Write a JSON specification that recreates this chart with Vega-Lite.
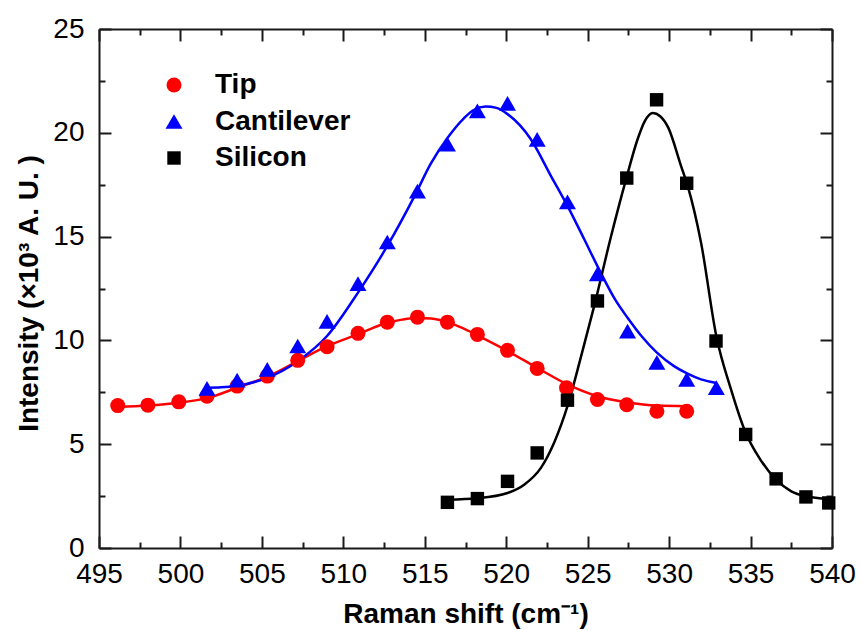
{
  "$schema": "https://vega.github.io/schema/vega-lite/v6.json",
  "width": 733,
  "height": 519,
  "autosize": "none",
  "padding": {"left": 99, "top": 29, "right": 28, "bottom": 82},
  "background": "white",
  "config": {
    "view": {"stroke": null},
    "font": "Liberation Sans",
    "axis": {
      "domainColor": "#1a1a1a", "domainWidth": 2, "tickColor": "#1a1a1a", "tickWidth": 2,
      "grid": false, "labelFontSize": 28, "labelColor": "#000", "labelFont": "Liberation Sans",
      "titleFontSize": 28, "titleFontWeight": "bold", "titleColor": "#000", "titleFont": "Liberation Sans",
      "labelFlush": false, "labelOverlap": false
    },
    "legend": {
      "labelFontSize": 28, "labelFontWeight": "bold", "labelColor": "#000", "labelFont": "Liberation Sans",
      "labelOffset": 27, "rowPadding": 8.5, "padding": 0
    }
  },
  "datasets": {
    "points": [
      {"sample": "Tip", "shift": 496.15, "intensity": 6.86},
      {"sample": "Tip", "shift": 498.0, "intensity": 6.88},
      {"sample": "Tip", "shift": 499.9, "intensity": 7.04},
      {"sample": "Tip", "shift": 501.63, "intensity": 7.31},
      {"sample": "Tip", "shift": 503.48, "intensity": 7.80},
      {"sample": "Tip", "shift": 505.33, "intensity": 8.28},
      {"sample": "Tip", "shift": 507.2, "intensity": 9.04},
      {"sample": "Tip", "shift": 509.0, "intensity": 9.70},
      {"sample": "Tip", "shift": 510.9, "intensity": 10.34},
      {"sample": "Tip", "shift": 512.7, "intensity": 10.88},
      {"sample": "Tip", "shift": 514.55, "intensity": 11.12},
      {"sample": "Tip", "shift": 516.39, "intensity": 10.88},
      {"sample": "Tip", "shift": 518.23, "intensity": 10.29},
      {"sample": "Tip", "shift": 520.08, "intensity": 9.52},
      {"sample": "Tip", "shift": 521.9, "intensity": 8.65},
      {"sample": "Tip", "shift": 523.7, "intensity": 7.72},
      {"sample": "Tip", "shift": 525.6, "intensity": 7.15},
      {"sample": "Tip", "shift": 527.4, "intensity": 6.90},
      {"sample": "Tip", "shift": 529.25, "intensity": 6.59},
      {"sample": "Tip", "shift": 531.08, "intensity": 6.59},
      {"sample": "Cantilever", "shift": 501.63, "intensity": 7.69},
      {"sample": "Cantilever", "shift": 503.48, "intensity": 8.09},
      {"sample": "Cantilever", "shift": 505.33, "intensity": 8.60},
      {"sample": "Cantilever", "shift": 507.2, "intensity": 9.73},
      {"sample": "Cantilever", "shift": 509.0, "intensity": 10.92},
      {"sample": "Cantilever", "shift": 510.9, "intensity": 12.73},
      {"sample": "Cantilever", "shift": 512.7, "intensity": 14.74},
      {"sample": "Cantilever", "shift": 514.55, "intensity": 17.19},
      {"sample": "Cantilever", "shift": 516.39, "intensity": 19.45},
      {"sample": "Cantilever", "shift": 518.23, "intensity": 21.06},
      {"sample": "Cantilever", "shift": 520.08, "intensity": 21.42},
      {"sample": "Cantilever", "shift": 521.9, "intensity": 19.68},
      {"sample": "Cantilever", "shift": 523.76, "intensity": 16.67},
      {"sample": "Cantilever", "shift": 525.6, "intensity": 13.2},
      {"sample": "Cantilever", "shift": 527.45, "intensity": 10.45},
      {"sample": "Cantilever", "shift": 529.25, "intensity": 8.94},
      {"sample": "Cantilever", "shift": 531.08, "intensity": 8.12},
      {"sample": "Cantilever", "shift": 532.9, "intensity": 7.72},
      {"sample": "Silicon", "shift": 516.39, "intensity": 2.20},
      {"sample": "Silicon", "shift": 518.23, "intensity": 2.38},
      {"sample": "Silicon", "shift": 520.08, "intensity": 3.21},
      {"sample": "Silicon", "shift": 521.9, "intensity": 4.58},
      {"sample": "Silicon", "shift": 523.76, "intensity": 7.12},
      {"sample": "Silicon", "shift": 525.6, "intensity": 11.9},
      {"sample": "Silicon", "shift": 527.4, "intensity": 17.82},
      {"sample": "Silicon", "shift": 529.23, "intensity": 21.59},
      {"sample": "Silicon", "shift": 531.08, "intensity": 17.57},
      {"sample": "Silicon", "shift": 532.88, "intensity": 9.97},
      {"sample": "Silicon", "shift": 534.7, "intensity": 5.47},
      {"sample": "Silicon", "shift": 536.57, "intensity": 3.33},
      {"sample": "Silicon", "shift": 538.4, "intensity": 2.46},
      {"sample": "Silicon", "shift": 539.8, "intensity": 2.17}
    ],
    "fits": [
      {"sample": "Tip", "shift": 496.15, "intensity": 6.80},
      {"sample": "Tip", "shift": 498.0, "intensity": 6.86},
      {"sample": "Tip", "shift": 499.9, "intensity": 7.00},
      {"sample": "Tip", "shift": 501.63, "intensity": 7.22},
      {"sample": "Tip", "shift": 503.48, "intensity": 7.72},
      {"sample": "Tip", "shift": 505.33, "intensity": 8.25},
      {"sample": "Tip", "shift": 507.2, "intensity": 9.0},
      {"sample": "Tip", "shift": 509.0, "intensity": 9.72},
      {"sample": "Tip", "shift": 510.9, "intensity": 10.3},
      {"sample": "Tip", "shift": 512.7, "intensity": 10.85},
      {"sample": "Tip", "shift": 513.6, "intensity": 11.0},
      {"sample": "Tip", "shift": 514.5, "intensity": 11.08},
      {"sample": "Tip", "shift": 515.4, "intensity": 11.05},
      {"sample": "Tip", "shift": 516.39, "intensity": 10.88},
      {"sample": "Tip", "shift": 517.3, "intensity": 10.6},
      {"sample": "Tip", "shift": 518.23, "intensity": 10.24},
      {"sample": "Tip", "shift": 520.08, "intensity": 9.49},
      {"sample": "Tip", "shift": 521.9, "intensity": 8.68},
      {"sample": "Tip", "shift": 523.76, "intensity": 7.88},
      {"sample": "Tip", "shift": 525.6, "intensity": 7.31},
      {"sample": "Tip", "shift": 527.4, "intensity": 7.02},
      {"sample": "Tip", "shift": 529.25, "intensity": 6.86},
      {"sample": "Tip", "shift": 531.08, "intensity": 6.83},
      {"sample": "Cantilever", "shift": 501.63, "intensity": 7.72},
      {"sample": "Cantilever", "shift": 502.5, "intensity": 7.74},
      {"sample": "Cantilever", "shift": 503.48, "intensity": 7.82},
      {"sample": "Cantilever", "shift": 505.33, "intensity": 8.20},
      {"sample": "Cantilever", "shift": 507.2, "intensity": 9.0},
      {"sample": "Cantilever", "shift": 509.0, "intensity": 10.21},
      {"sample": "Cantilever", "shift": 510.9, "intensity": 12.3},
      {"sample": "Cantilever", "shift": 512.7, "intensity": 14.55},
      {"sample": "Cantilever", "shift": 514.4, "intensity": 17.0},
      {"sample": "Cantilever", "shift": 515.36, "intensity": 18.5},
      {"sample": "Cantilever", "shift": 516.39, "intensity": 19.75},
      {"sample": "Cantilever", "shift": 517.4, "intensity": 20.7},
      {"sample": "Cantilever", "shift": 518.0, "intensity": 21.1},
      {"sample": "Cantilever", "shift": 518.74, "intensity": 21.27},
      {"sample": "Cantilever", "shift": 519.4, "intensity": 21.2},
      {"sample": "Cantilever", "shift": 520.08, "intensity": 20.9},
      {"sample": "Cantilever", "shift": 521.5, "intensity": 19.7},
      {"sample": "Cantilever", "shift": 522.74, "intensity": 17.93},
      {"sample": "Cantilever", "shift": 523.76, "intensity": 16.48},
      {"sample": "Cantilever", "shift": 524.79, "intensity": 14.87},
      {"sample": "Cantilever", "shift": 525.6, "intensity": 13.58},
      {"sample": "Cantilever", "shift": 526.7, "intensity": 11.95},
      {"sample": "Cantilever", "shift": 527.45, "intensity": 11.09},
      {"sample": "Cantilever", "shift": 528.3, "intensity": 10.21},
      {"sample": "Cantilever", "shift": 529.25, "intensity": 9.41},
      {"sample": "Cantilever", "shift": 530.3, "intensity": 8.76},
      {"sample": "Cantilever", "shift": 531.1, "intensity": 8.41},
      {"sample": "Cantilever", "shift": 531.96, "intensity": 8.12},
      {"sample": "Cantilever", "shift": 532.9, "intensity": 7.95},
      {"sample": "Silicon", "shift": 516.39, "intensity": 2.33},
      {"sample": "Silicon", "shift": 518.23, "intensity": 2.40},
      {"sample": "Silicon", "shift": 520.08, "intensity": 2.65},
      {"sample": "Silicon", "shift": 521.1, "intensity": 3.05},
      {"sample": "Silicon", "shift": 522.13, "intensity": 3.86},
      {"sample": "Silicon", "shift": 522.94, "intensity": 5.07},
      {"sample": "Silicon", "shift": 523.76, "intensity": 6.83},
      {"sample": "Silicon", "shift": 524.6, "intensity": 9.24},
      {"sample": "Silicon", "shift": 525.4, "intensity": 11.65},
      {"sample": "Silicon", "shift": 526.44, "intensity": 15.03},
      {"sample": "Silicon", "shift": 527.36, "intensity": 17.77},
      {"sample": "Silicon", "shift": 528.07, "intensity": 19.7},
      {"sample": "Silicon", "shift": 528.5, "intensity": 20.55},
      {"sample": "Silicon", "shift": 529.0, "intensity": 20.95},
      {"sample": "Silicon", "shift": 529.45, "intensity": 20.8},
      {"sample": "Silicon", "shift": 529.94, "intensity": 20.26},
      {"sample": "Silicon", "shift": 530.73, "intensity": 18.41},
      {"sample": "Silicon", "shift": 531.14, "intensity": 17.44},
      {"sample": "Silicon", "shift": 531.96, "intensity": 14.71},
      {"sample": "Silicon", "shift": 532.9, "intensity": 10.2},
      {"sample": "Silicon", "shift": 533.8, "intensity": 7.64},
      {"sample": "Silicon", "shift": 534.7, "intensity": 5.55},
      {"sample": "Silicon", "shift": 535.6, "intensity": 4.26},
      {"sample": "Silicon", "shift": 536.57, "intensity": 3.29},
      {"sample": "Silicon", "shift": 537.5, "intensity": 2.73},
      {"sample": "Silicon", "shift": 538.4, "intensity": 2.49},
      {"sample": "Silicon", "shift": 539.8, "intensity": 2.36}
    ]
  },
  "layer": [
    {
      "data": {"name": "fits"},
      "transform": [{"filter": "datum.sample === 'Tip'"}],
      "mark": {"type": "line", "interpolate": "monotone", "strokeWidth": 2.5, "color": "#ff0000"},
      "encoding": {
        "x": {
          "field": "shift", "type": "quantitative",
          "scale": {"domain": [495, 540], "nice": false, "zero": false},
          "axis": {
            "orient": "bottom",
            "values": [495, 497.5, 500, 502.5, 505, 507.5, 510, 512.5, 515, 517.5, 520, 522.5, 525, 527.5, 530, 532.5, 535, 537.5, 540],
            "labelExpr": "datum.value % 5 === 0 ? datum.label : ''",
            "tickSize": {"condition": {"test": "datum.value % 5 === 0", "value": -12}, "value": -6},
            "labelPadding": 46,
            "labelBaseline": "alphabetic",
            "title": "Raman shift (cm⁻¹)",
            "titleBaseline": "alphabetic",
            "titleY": 74
          }
        },
        "y": {
          "field": "intensity", "type": "quantitative",
          "scale": {"domain": [0, 25], "nice": false, "zero": false},
          "axis": {
            "orient": "left",
            "values": [0, 2.5, 5, 7.5, 10, 12.5, 15, 17.5, 20, 22.5, 25],
            "labelExpr": "datum.value % 5 === 0 ? datum.label : ''",
            "tickSize": {"condition": {"test": "datum.value % 5 === 0", "value": -12}, "value": -6},
            "labelPadding": 27,
            "title": "Intensity (×10³ A. U. )",
            "titleAngle": -90,
            "titleBaseline": "alphabetic",
            "titleX": -62,
            "titleY": 264,
            "titleAlign": "center"
          }
        }
      }
    },
    {
      "data": {"name": "fits"},
      "transform": [{"filter": "datum.sample === 'Cantilever'"}],
      "mark": {"type": "line", "interpolate": "monotone", "strokeWidth": 2.5, "color": "#0000ff"},
      "encoding": {
        "x": {"field": "shift", "type": "quantitative", "axis": null},
        "y": {"field": "intensity", "type": "quantitative", "axis": null}
      }
    },
    {
      "data": {"name": "fits"},
      "transform": [{"filter": "datum.sample === 'Silicon'"}],
      "mark": {"type": "line", "interpolate": "monotone", "strokeWidth": 2.5, "color": "#000000"},
      "encoding": {
        "x": {"field": "shift", "type": "quantitative", "axis": null},
        "y": {"field": "intensity", "type": "quantitative", "axis": null}
      }
    },
    {
      "data": {"name": "points"},
      "mark": {"type": "point", "filled": true, "opacity": 1},
      "encoding": {
        "x": {
          "field": "shift", "type": "quantitative",
          "axis": {
            "orient": "top",
            "values": [495, 497.5, 500, 502.5, 505, 507.5, 510, 512.5, 515, 517.5, 520, 522.5, 525, 527.5, 530, 532.5, 535, 537.5, 540],
            "labels": false, "title": null,
            "tickSize": {"condition": {"test": "datum.value % 5 === 0", "value": -12}, "value": -6}
          }
        },
        "y": {
          "field": "intensity", "type": "quantitative",
          "axis": {
            "orient": "right",
            "values": [0, 2.5, 5, 7.5, 10, 12.5, 15, 17.5, 20, 22.5, 25],
            "labels": false, "title": null,
            "tickSize": {"condition": {"test": "datum.value % 5 === 0", "value": -12}, "value": -6}
          }
        },
        "color": {
          "field": "sample", "type": "nominal",
          "scale": {"domain": ["Tip", "Cantilever", "Silicon"], "range": ["#ff0000", "#0000ff", "#000000"]},
          "legend": {"title": null, "orient": "none", "legendX": 61, "legendY": 42}
        },
        "shape": {
          "field": "sample", "type": "nominal",
          "scale": {"domain": ["Tip", "Cantilever", "Silicon"], "range": ["circle", "triangle-up", "square"]},
          "legend": {"title": null, "orient": "none", "legendX": 61, "legendY": 42}
        },
        "size": {
          "field": "sample", "type": "nominal",
          "scale": {"type": "ordinal", "domain": ["Tip", "Cantilever", "Silicon"], "range": [225, 289, 180]},
          "legend": {"title": null, "orient": "none", "legendX": 61, "legendY": 42}
        }
      }
    }
  ],
  "resolve": {"axis": {"x": "independent", "y": "independent"}}
}
